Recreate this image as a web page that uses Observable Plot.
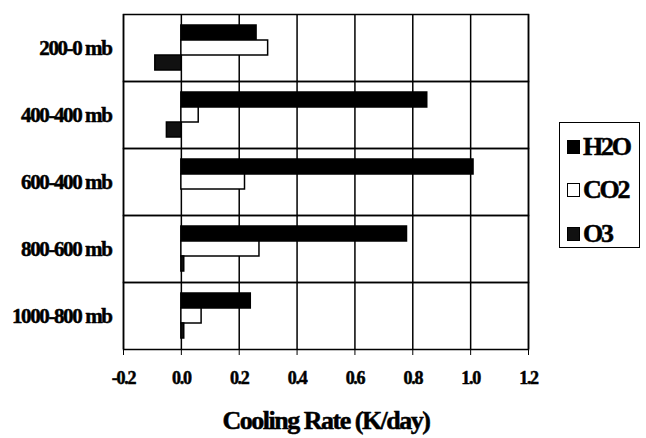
<!DOCTYPE html>
<html>
<head>
<meta charset="utf-8">
<script src="https://cdn.jsdelivr.net/npm/d3@7"></script>
<script src="https://cdn.jsdelivr.net/npm/@observablehq/plot@0.6"></script>
<style>
  body { margin: 0; background: #fff; }
  #wrap { position: relative; width: 646px; height: 438px; }
  #chart svg { font-family: "Liberation Serif", serif; font-weight: bold; }
  #chart svg g[aria-label="fy-axis tick label"] text { font-size: 21px; letter-spacing: -1.4px; stroke: #000; stroke-width: 0.5px; }
  #chart svg g[aria-label="x-axis tick label"] text { font-size: 18px; letter-spacing: -1.3px; stroke: #000; stroke-width: 0.5px; }
  #chart svg g[aria-label="x-axis label"] text { font-size: 26px; letter-spacing: -1.5px; stroke: #000; stroke-width: 0.5px; }
  #legend { position: absolute; left: 559px; top: 122px; width: 81px; height: 126px;
    border: 1.5px solid #000; font-family: "Liberation Serif", serif; font-weight: bold;
    font-size: 26px; letter-spacing: -2.2px; box-sizing: border-box; -webkit-text-stroke: 0.5px #000; }
  .item { position: absolute; left: 7px; display: flex; align-items: center; line-height: 1; }
  .sw { width: 13px; height: 14px; border: 1.5px solid #000; box-sizing: border-box; margin-right: 3px; }
</style>
</head>
<body>
<div id="wrap">
  <div id="chart"></div>
  <div id="legend"></div>
</div>
<script>
const layers = ["200-0 mb", "400-400 mb", "600-400 mb", "800-600 mb", "1000-800 mb"];
const series = ["H2O", "CO2", "O3"];
const seriesFill = ["#000", "#fff", "#111"];
const h2o = [0.26, 0.85, 1.01, 0.78, 0.24];
const co2 = [0.30, 0.06, 0.22, 0.27, 0.07];
const o3 = [-0.09, -0.05, 0.0, 0.01, 0.01];
const xTicks = [-0.2, 0.0, 0.2, 0.4, 0.6, 0.8, 1.0, 1.2];

const valuesBySeries = [h2o, co2, o3];
const data = [];
layers.forEach((layer, i) => {
  series.forEach((s, j) => data.push({layer, series: s, value: valuesBySeries[j][i]}));
});

const chart = Plot.plot({
  width: 646,
  height: 438,
  marginLeft: 123,
  marginRight: 118,
  marginTop: 12,
  marginBottom: 88,
  x: {domain: [-0.2, 1.2], ticks: xTicks, tickFormat: d => d.toFixed(1), tickSize: 6, tickPadding: 16,
      label: "Cooling Rate (K/day)", labelArrow: "none", labelAnchor: "center", labelOffset: 79},
  y: {domain: series, axis: null, paddingInner: 0, paddingOuter: 0.65},
  fy: {domain: layers, padding: 0, label: null, tickSize: 0, tickPadding: 12},
  color: {domain: series, range: seriesFill},
  marks: [
    Plot.ruleX(xTicks, {stroke: "#000", strokeWidth: 1.5}),
    Plot.frame({stroke: "#000", strokeWidth: 1.5}),
    Plot.barX(data, {x: "value", y: "series", fy: "layer", fill: "series", stroke: "#000", strokeWidth: 1.5})
  ]
});
document.getElementById("chart").appendChild(chart);
// strip any direction arrow that older versions append to the axis label
d3.select(chart).selectAll("text").each(function () {
  const t = this.textContent;
  if (t.includes("Cooling")) this.textContent = t.replace(/\s*[→←↑↓]\s*/g, "");
});

const legend = document.getElementById("legend");
const tops = [11, 54, 98];
series.forEach((s, j) => {
  const it = document.createElement("div");
  it.className = "item";
  it.style.top = tops[j] + "px";
  const sw = document.createElement("div");
  sw.className = "sw";
  sw.style.background = seriesFill[j];
  const t = document.createElement("span");
  t.textContent = s;
  it.appendChild(sw); it.appendChild(t);
  legend.appendChild(it);
});
</script>
</body>
</html>
